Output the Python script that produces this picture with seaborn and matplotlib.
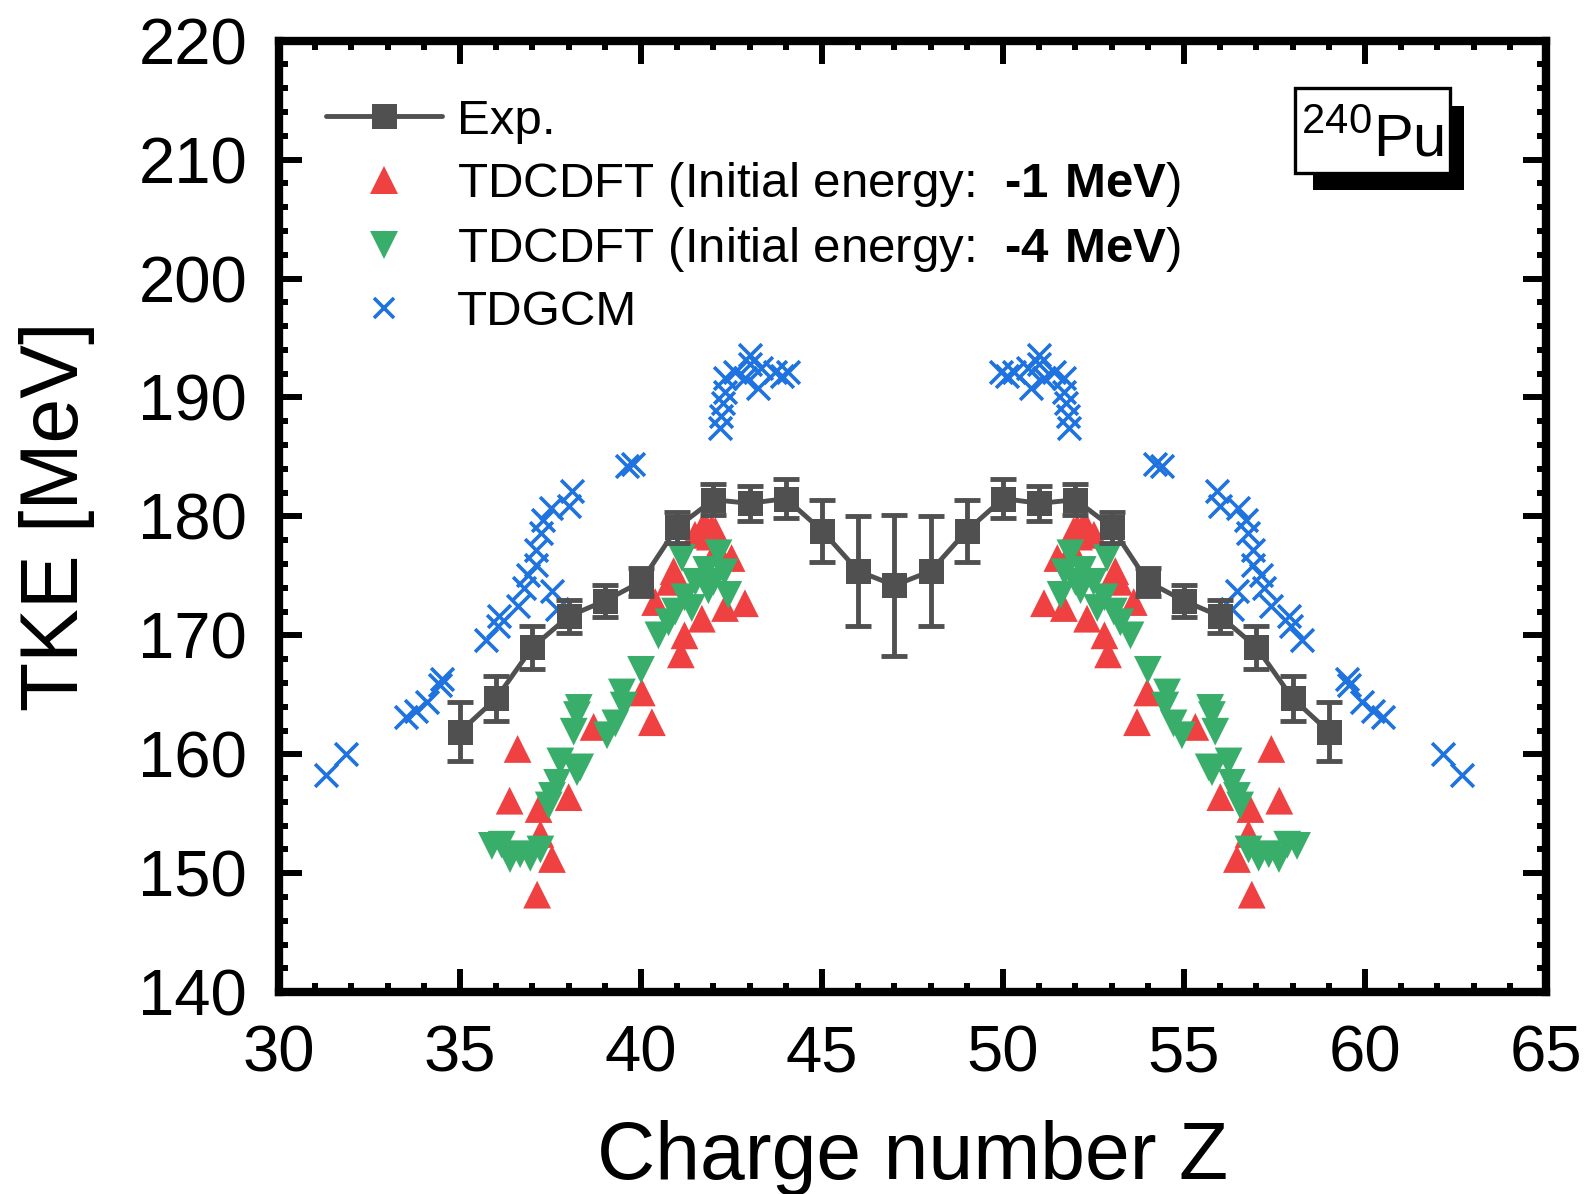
import numpy as np
import pandas as pd
import seaborn as sns
import matplotlib.pyplot as plt
from matplotlib.lines import Line2D
from matplotlib.patches import Rectangle
from matplotlib.ticker import MultipleLocator

# 240Pu: light + heavy fragment charges add up to 94, both fragments share the TKE
Z_CN = 94

# experimental TKE with error bars
exp_z = list(range(35, 60))
exp_tke = [161.9, 164.7, 169.0, 171.6, 172.9, 174.5, 179.1, 181.4, 181.1, 181.5, 178.8, 175.4, 174.2,
           175.4, 178.8, 181.5, 181.1, 181.4, 179.1, 174.5, 172.9, 171.6, 169.0, 164.7, 161.9]
exp_err = [2.5, 1.9, 1.8, 1.4, 1.35, 1.2, 1.3, 1.3, 1.45, 1.65, 2.6, 4.65, 5.9,
           4.65, 2.6, 1.65, 1.45, 1.3, 1.3, 1.2, 1.35, 1.4, 1.8, 1.9, 2.5]

# TDCDFT, initial energy -1 MeV (light fragment)
cdft1_z = [36.59, 36.37, 37.22, 37.54, 37.13, 37.17, 38.0, 38.69, 40.02, 40.3, 41.1, 41.2,
           41.95, 41.49, 42.1, 42.5, 40.9, 40.8, 40.39, 42.87, 42.32, 41.68, 41.75, 41.9, 42.05]
cdft1_tke = [160.45, 156.1, 153.3, 151.2, 148.2, 155.4, 156.4, 162.3, 165.2, 162.7, 168.4, 170.0,
             179.0, 178.45, 177.3, 176.5, 175.4, 174.5, 172.8, 172.7, 172.3, 171.4, 179.4, 178.3, 178.8]

# TDCDFT, initial energy -4 MeV (light fragment)
cdft4_z = [35.88, 36.15, 36.38, 36.66, 36.94, 37.22, 37.45, 37.54, 37.68, 37.77, 38.23, 38.32,
           38.14, 38.23, 38.28, 39.06, 39.29, 39.52, 39.47, 40.0, 40.48, 40.76, 40.94, 41.4,
           41.86, 42.41, 41.8, 42.3, 41.13, 42.14, 41.5, 41.2, 42.0]
cdft4_tke = [152.3, 152.4, 151.2, 151.6, 151.3, 152.0, 155.7, 156.5, 157.6, 159.4, 158.5, 158.9,
             161.9, 163.3, 163.9, 161.6, 162.6, 164.1, 165.2, 167.1, 170.0, 171.1, 172.0, 172.3,
             173.8, 173.4, 175.5, 175.3, 176.5, 176.9, 174.5, 173.2, 174.5]

# TDGCM (light fragment)
gcm_z = [31.31, 31.86, 33.5, 33.77, 34.09, 34.45, 34.5, 35.73, 36.05, 36.09, 36.6, 36.78, 36.87,
         37.1, 37.1, 37.23, 37.28, 37.5, 38.0, 38.1, 37.55, 37.69, 39.6, 39.79,
         42.18, 42.22, 42.27, 42.31, 42.31, 42.6, 42.87, 43.0, 43.0, 43.24, 43.3, 43.7, 44.07, 43.9]
gcm_tke = [158.3, 160.0, 163.1, 163.6, 164.4, 165.8, 166.3, 169.6, 170.8, 171.6, 172.5, 174.0, 175.1,
           175.9, 177.2, 178.6, 179.7, 180.7, 180.9, 182.1, 173.7, 172.2, 184.2, 184.4,
           187.45, 188.4, 189.55, 190.5, 191.65, 192.1, 191.65, 193.6, 192.8, 190.8, 192.5, 192.1, 192.1, 191.8]

GRAY = '#505050'
RED = '#EF4141'
GREEN = '#38AE6A'
BLUE = '#1E73E0'


def both_fragments(z, tke):
    z = np.asarray(z)
    tke = np.asarray(tke)
    return pd.DataFrame({'Z': np.concatenate([z, Z_CN - z]),
                         'TKE': np.concatenate([tke, tke])})


sns.set_theme(style='ticks')
plt.rcParams['font.family'] = ['Liberation Sans', 'DejaVu Sans']
plt.rcParams['mathtext.fontset'] = 'custom'
plt.rcParams['mathtext.rm'] = 'Liberation Sans'
plt.rcParams['mathtext.bf'] = 'Liberation Sans:bold'
for key in ['text.color', 'axes.labelcolor', 'xtick.color', 'ytick.color', 'axes.edgecolor']:
    plt.rcParams[key] = 'black'

fig = plt.figure(figsize=(15.89, 11.94), dpi=100)
ax = fig.add_axes([0.1756, 0.169, 0.7974, 0.797])

sns.scatterplot(data=both_fragments(gcm_z, gcm_tke), x='Z', y='TKE', marker='x', s=270,
                color=BLUE, linewidth=2.6, ax=ax, zorder=2, legend=False)
sns.scatterplot(data=both_fragments(cdft1_z, cdft1_tke), x='Z', y='TKE', marker='^', s=400,
                color=RED, edgecolor='none', ax=ax, zorder=3, legend=False)
sns.scatterplot(data=both_fragments(cdft4_z, cdft4_tke), x='Z', y='TKE', marker='v', s=400,
                color=GREEN, edgecolor='none', ax=ax, zorder=4, legend=False)

ax.errorbar(exp_z, exp_tke, yerr=exp_err, fmt='none', ecolor=GRAY, elinewidth=3.5,
            capsize=9.5, capthick=3.5, zorder=5)
sns.lineplot(x=exp_z, y=exp_tke, marker='s', markersize=18, markeredgewidth=0,
             color=GRAY, linewidth=3.5, ax=ax, zorder=6)

ax.set_xlim(30, 65)
ax.set_ylim(140, 220)
ax.xaxis.set_major_locator(MultipleLocator(5))
ax.xaxis.set_minor_locator(MultipleLocator(1))
ax.yaxis.set_major_locator(MultipleLocator(10))
ax.yaxis.set_minor_locator(MultipleLocator(2))
ax.tick_params(which='both', direction='in', top=True, right=True, width=4.3,
               color='black', labelcolor='black', labelsize=47, pad=23)
ax.tick_params(which='major', length=16.5)
ax.tick_params(which='minor', length=6.5)
for sp in ax.spines.values():
    sp.set_linewidth(6)
    sp.set_color('black')

ax.set_xlabel('Charge number Z', fontsize=58, labelpad=26, color='black')
ax.set_ylabel('TKE [MeV]', fontsize=58, labelpad=31, color='black')

handles = [
    Line2D([], [], color=GRAY, lw=3.5, marker='s', ms=18, mew=0),
    Line2D([], [], ls='none', marker='^', ms=20, color=RED, mew=0),
    Line2D([], [], ls='none', marker='v', ms=20, color=GREEN, mew=0),
    Line2D([], [], ls='none', marker='x', ms=14, mew=2.6, color=BLUE),
]
labels = ['Exp.',
          'TDCDFT (Initial energy:  $\\mathbf{\u20101\\ MeV}$)',
          'TDCDFT (Initial energy:  $\\mathbf{\u20104\\ MeV}$)',
          'TDGCM']
ax.legend(handles, labels, loc='upper left', bbox_to_anchor=(0.037, 0.939), frameon=False,
          fontsize=35.5, handlelength=2.35, handletextpad=0.3, labelspacing=0.33,
          borderpad=0, borderaxespad=0)

# nucleus tag with drop shadow
ax.add_patch(Rectangle((0.816, 0.843), 0.119, 0.088, transform=ax.transAxes,
                       facecolor='black', edgecolor='none', zorder=10))
ax.add_patch(Rectangle((0.802, 0.861), 0.122, 0.089, transform=ax.transAxes,
                       facecolor='white', edgecolor='black', lw=2.4, zorder=11))
ax.text(0.863, 0.878, r'$^{240}$Pu', transform=ax.transAxes, ha='center', va='baseline',
        fontsize=43, zorder=12)

fig.savefig('out.png', dpi=100)
